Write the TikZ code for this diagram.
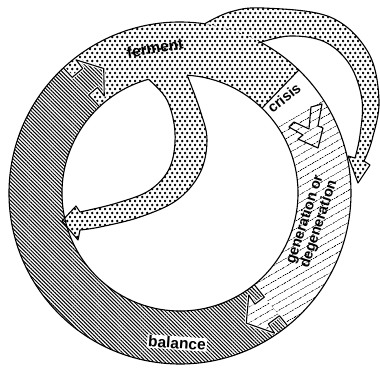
\documentclass[tikz,border=0pt]{standalone}
\usepackage{fontspec}
\setmainfont{Liberation Sans}
\usetikzlibrary{patterns.meta}
\tikzdeclarepattern{
  name=ferdots, type=uncolored,
  bottom left={(0pt,0pt)}, top right={(4.6pt,7.97pt)},
  tile size={(4.6pt,7.97pt)},
  code={\fill (1.15pt,1.99pt) circle (1.45pt); \fill (3.45pt,5.98pt) circle (1.45pt);}
}
\def\myRo{171}
\def\myRi{118}
\newcommand\mysector[2]{(#1:\myRo) arc[start angle=#1, end angle=#2, radius=\myRo] -- (#2:\myRi) arc[start angle=#2, end angle=#1, radius=\myRi] -- cycle}
\begin{document}
\begin{tikzpicture}[x=1pt,y=1pt,line join=round,
  ferfill/.style={pattern=ferdots},
  balfill/.style={pattern={Lines[angle=-45,distance=2.6pt,line width=1pt]}},
  genfill/.style={pattern={Lines[angle=30,distance=6.5pt,line width=0.55pt]}},
  outl/.style={line width=1.1pt},
  halo/.style={preaction={draw=white,line width=3.2pt}},
  lbl/.style={font=\fontsize{15.5}{16}\selectfont\bfseries, inner sep=1pt}]
\useasboundingbox (0,0) rectangle (380,370);
\begin{scope}[shift={(180,177)}]
% ring sectors
\path[ferfill] \mysector{46}{133};
\path[balfill] \mysector{133}{309};
\path[genfill] \mysector{-51}{34};
% outer loop of ferment
\def\outerloop{plot[smooth,tension=0.6] coordinates {(81.7:\myRo) (50,181) (83,185) (150,176) (188,141) (199,93) (192,53) (184,32)} -- (190,28) -- (178,10) -- (168,37) -- (175,35) -- plot[smooth,tension=0.6] coordinates {(175,35) (180,58) (182,93) (170,128) (145,151) (110,157) (62.5:169)}}
\path[ferfill] \outerloop -- (62.5:\myRo) arc[start angle=62.5,end angle=81.7,radius=\myRo] -- cycle;
% inner loop of ferment
\def\innerloop{plot[smooth,tension=0.6] coordinates {(86.5:\myRi) (20,83) (27,53) (20,20) (-3,-7) (-40,-24) (-80,-34) (-100,-37)} -- (-102,-47) -- (-118,-28) -- (-104,-13) -- (-100,-19) -- plot[smooth,tension=0.6] coordinates {(-100,-19) (-63,-10) (-30,3) (-10,26) (-5,60) (-13,93) (105.5:\myRi)}}
\path[ferfill] \innerloop arc[start angle=105.5,end angle=86.5,radius=\myRi] -- cycle;
% balance arrow into ferment
\fill[white] (133:134) -- (128:134) -- (128:123) -- (121.5:146) -- (128:169) -- (128:158) -- (133:158) -- cycle;
\path[balfill] (133:134) -- (128:134) -- (128:123) -- (121.5:146) -- (128:169) -- (128:158) -- (133:158) -- cycle;
% generation arrow into balance
\fill[white] (-51:134) -- (-56:134) -- (-56:123) -- (-63:146) -- (-56:169) -- (-56:158) -- (-51:158) -- cycle;
\path[genfill] (-51:134) -- (-56:134) -- (-56:123) -- (-63:146) -- (-56:169) -- (-56:158) -- (-51:158) -- cycle;
% crisis arrow
\def\crisisarrow{(131,86) -- (142,89) -- (138,67) -- (143,65) -- (138,45) -- (118,54) -- (123,58) -- (109,66) -- (114,71) -- (129,64) -- cycle}
\fill[white] \crisisarrow;
\path[genfill] \crisisarrow;
% outlines
\draw[outl,halo] (133:\myRi) -- (133:134) -- (128:134) -- (128:123) -- (121.5:146) -- (128:169) -- (128:158) -- (133:158) -- (133:\myRo);
\draw[outl,halo] (-51:\myRi) -- (-51:134) -- (-56:134) -- (-56:123) -- (-63:146) -- (-56:169) -- (-56:158) -- (-51:158) -- (-51:\myRo);
\draw[outl] (81.7:\myRo) arc[start angle=81.7,end angle=422.5,radius=\myRo];
\draw[outl] (105.5:\myRi) arc[start angle=105.5,end angle=446.5,radius=\myRi];
\draw[outl] (46:\myRi) -- (46:\myRo);
\draw[outl] \outerloop;
\draw[outl] \innerloop;
\draw[outl] \crisisarrow;
% labels
\node[lbl,rotate=10] (ferment) at (-25,145) {ferment};
\node[lbl,rotate=39,font=\fontsize{14.5}{15}\selectfont\bfseries] (crisis) at (104,95) {crisis};
\node[lbl,rotate=72,align=center,font=\fontsize{14.5}{14.5}\selectfont\bfseries] (gen) at (132,-29) {generation or\\degeneration};
\node[lbl,rotate=-4,fill=white] (balance) at (-3,-150) {balance};
\end{scope}
\end{tikzpicture}
\end{document}
